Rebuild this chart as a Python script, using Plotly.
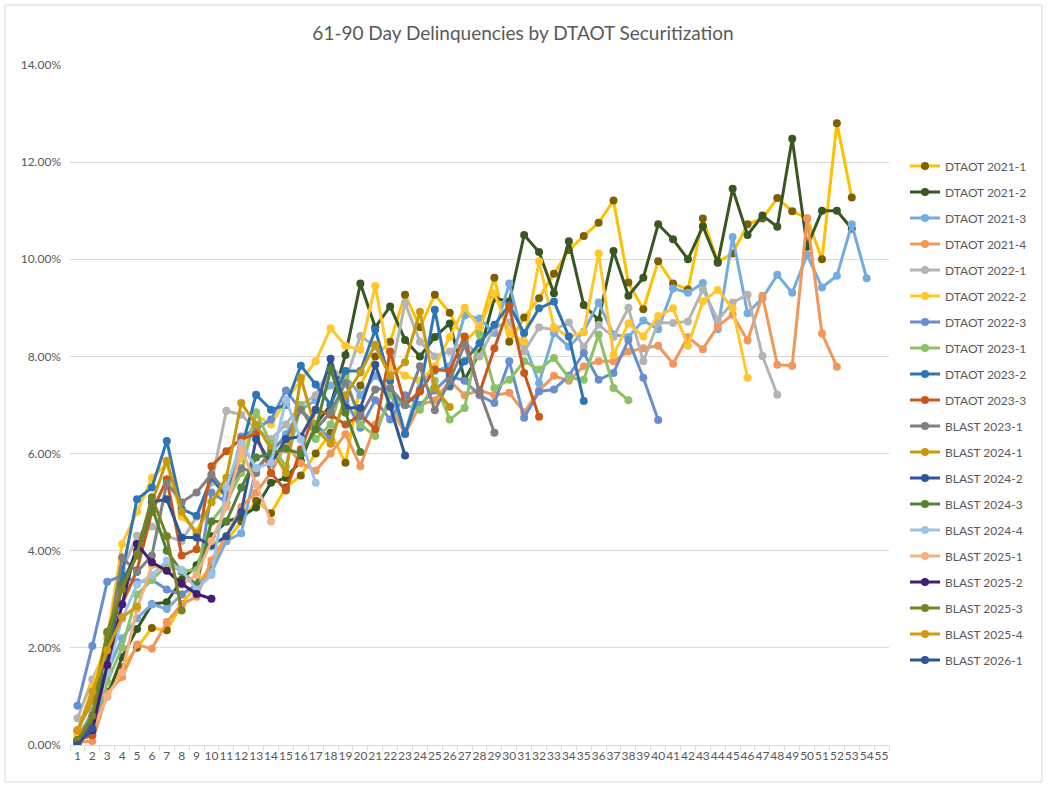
import plotly.graph_objects as go

x_labels = [str(i) for i in range(1, 56)]

series_names = [
    "DTAOT 2021-1", "DTAOT 2021-2", "DTAOT 2021-3", "DTAOT 2021-4", "DTAOT 2022-1",
    "DTAOT 2022-2", "DTAOT 2022-3", "DTAOT 2023-1", "DTAOT 2023-2", "DTAOT 2023-3",
    "BLAST 2023-1", "BLAST 2024-1", "BLAST 2024-2", "BLAST 2024-3", "BLAST 2024-4",
    "BLAST 2025-1", "BLAST 2025-2", "BLAST 2025-3", "BLAST 2025-4", "BLAST 2026-1",
]

dtaot_2021_1 = [0.3, 0.5, 1.1, 1.6, 2.0, 2.41, 2.36, 2.9, 3.3, 3.7, 4.2, 4.6, 5.03, 4.77, 5.3,
                5.55, 6.0, 6.43, 5.81, 7.4, 8.0, 8.3, 9.27, 8.6, 9.27, 8.9, 8.3, 8.6, 9.62, 8.3,
                8.8, 9.2, 9.7, 10.19, 10.48, 10.75, 11.21, 9.52, 8.97, 9.96, 9.5, 9.38, 10.84,
                9.95, 10.12, 10.72, 10.84, 11.26, 10.99, 10.84, 10.0, 12.8, 11.27]
dtaot_2021_2 = [0.05, 0.4, 1.0, 1.81, 2.39, 2.9, 2.94, 3.4, 3.7, 4.3, 4.6, 4.7, 4.89, 5.4, 5.5,
                5.85, 6.6, 7.0, 8.03, 9.5, 8.6, 9.03, 8.34, 8.0, 8.4, 8.68, 7.52, 8.07, 9.2, 9.13,
                10.5, 10.15, 9.3, 10.37, 9.06, 8.75, 10.17, 9.25, 9.62, 10.72, 10.41, 10.0, 10.68,
                9.93, 11.45, 10.5, 10.9, 10.67, 12.48, 10.26, 11.0, 11.0, 10.63]
dtaot_2021_3 = [0.1, 0.7, 1.5, 2.2, 2.61, 2.9, 2.8, 3.1, 3.3, 3.56, 4.2, 4.36, 5.7, 6.0, 6.4,
                6.9, 7.1, 7.4, 7.6, 7.2, 7.6, 7.3, 6.4, 7.5, 7.7, 7.8, 8.85, 8.78, 8.48, 9.5,
                8.27, 7.45, 8.48, 8.2, 8.51, 9.11, 8.45, 8.4, 8.74, 8.56, 9.40, 9.31, 9.51, 8.56,
                10.46, 8.89, 9.2, 9.68, 9.31, 10.09, 9.42, 9.66, 10.72, 9.61]
dtaot_2021_4 = [0.05, 0.08, 1.06, 1.4, 2.07, 1.98, 2.53, 2.9, 3.05, 3.8, 4.3, 4.9, 5.2, 5.6, 6.2,
                5.8, 5.65, 6.0, 6.4, 5.74, 6.6, 7.0, 6.4, 7.0, 7.1, 7.5, 7.2, 7.3, 7.2, 7.25,
                6.85, 7.3, 7.6, 7.5, 7.8, 7.9, 7.9, 8.1, 8.17, 8.22, 7.85, 8.40, 8.15, 8.62, 8.86,
                8.33, 9.25, 7.83, 7.81, 10.84, 8.47, 7.79]
dtaot_2022_1 = [0.55, 1.35, 2.0, 3.6, 4.31, 4.5, 4.3, 4.2, 4.7, 5.4, 6.88, 6.8, 6.5, 6.3, 6.6,
                7.0, 7.2, 7.8, 7.5, 8.42, 8.2, 7.6, 9.1, 8.3, 8.0, 8.1, 8.3, 8.0, 8.6, 8.7,
                8.1, 8.6, 8.55, 8.7, 8.2, 8.65, 8.4, 9.0, 7.9, 8.70, 8.69, 8.72, 9.38, 8.75, 9.11,
                9.27, 8.01, 7.21]
dtaot_2022_2 = [0.2, 1.2, 2.2, 4.14, 4.8, 5.5, 5.8, 4.7, 4.4, 5.0, 5.3, 5.9, 6.8, 6.6, 7.1,
                7.5, 7.9, 8.58, 8.22, 8.14, 9.45, 7.8, 7.6, 7.5, 7.8, 8.4, 9.0, 8.6, 9.3, 8.5,
                8.3, 9.96, 8.6, 8.4, 8.5, 10.12, 8.03, 8.68, 8.41, 8.83, 8.99, 8.22, 9.13, 9.37,
                8.99, 7.56]
dtaot_2022_3 = [0.81, 2.04, 3.36, 3.49, 3.35, 3.4, 3.2, 3.1, 3.3, 5.2, 5.0, 6.35, 6.5, 6.7, 7.3,
                6.9, 6.6, 6.3, 7.1, 6.53, 7.1, 6.7, 7.2, 7.0, 7.3, 7.6, 7.5, 7.2, 7.04, 7.9,
                6.74, 7.28, 7.32, 7.6, 8.07, 7.52, 7.66, 8.34, 7.56, 6.69]
dtaot_2023_1 = [0.1, 0.3, 1.3, 2.0, 3.1, 3.4, 3.7, 3.6, 3.6, 4.6, 5.0, 5.6, 6.85, 6.2, 5.73,
                7.0, 6.3, 6.6, 7.6, 6.6, 6.36, 7.2, 7.0, 6.9, 7.5, 6.7, 6.94, 8.45, 7.35, 7.52,
                7.9, 7.73, 7.97, 7.56, 7.52, 8.45, 7.35, 7.1]
dtaot_2023_2 = [0.05, 0.35, 2.0, 3.5, 5.06, 5.3, 6.26, 4.86, 4.72, 5.5, 5.1, 6.1, 7.21, 6.9, 7.0,
                7.81, 7.42, 7.0, 7.7, 7.7, 8.55, 7.5, 6.41, 7.3, 8.96, 7.38, 7.9, 8.27, 8.65, 9.06,
                8.48, 8.99, 9.13, 8.41, 7.08]
dtaot_2023_3 = [0.1, 0.2, 1.6, 2.9, 3.6, 4.8, 5.47, 3.9, 4.03, 5.74, 6.05, 6.3, 6.4, 5.6, 5.24,
                6.09, 6.9, 6.8, 6.6, 6.8, 6.5, 8.1, 7.0, 7.28, 7.73, 7.7, 8.41, 7.25, 8.17, 9.03,
                7.66, 6.76]
blast_2023_1 = [0.05, 0.3, 2.0, 3.86, 3.56, 3.9, 5.4, 5.0, 5.2, 5.57, 5.2, 5.7, 5.6, 6.1, 6.3,
                6.9, 6.5, 6.85, 7.45, 6.77, 7.32, 7.35, 7.0, 7.8, 6.89, 7.5, 8.24, 7.28, 6.43]
blast_2024_1 = [0.3, 0.9, 2.3, 3.3, 4.0, 5.0, 5.85, 4.8, 4.35, 5.0, 5.5, 7.04, 6.6, 6.1, 5.6,
                7.56, 6.5, 6.2, 7.2, 7.67, 8.24, 7.59, 7.88, 8.92, 7.35, 6.96]
blast_2024_2 = [0.05, 0.5, 1.8, 3.3, 4.0, 5.0, 5.06, 4.27, 4.27, 4.1, 4.3, 4.8, 6.3, 5.8, 6.3,
                6.35, 6.9, 7.95, 6.95, 6.94, 7.83, 6.97, 5.96]
blast_2024_3 = [0.1, 0.5, 2.0, 3.3, 3.9, 4.9, 4.0, 3.56, 3.3, 4.6, 4.6, 5.3, 5.92, 6.0, 6.1,
                6.0, 6.5, 7.73, 6.84, 6.03]
blast_2024_4 = [0.05, 0.3, 1.5, 2.6, 3.3, 3.5, 3.8, 3.6, 3.2, 3.5, 5.3, 6.22, 5.7, 5.81, 7.11,
                6.29, 5.4]
blast_2025_1 = [0.05, 0.3, 1.0, 1.5, 2.8, 3.7, 3.6, 3.3, 3.5, 4.2, 4.9, 6.09, 5.37, 4.6]
blast_2025_2 = [0.05, 0.3, 1.65, 2.9, 4.14, 3.76, 3.59, 3.32, 3.11, 3.01]
blast_2025_3 = [0.1, 0.6, 2.33, 3.2, 3.93, 5.1, 4.3, 2.77]
blast_2025_4 = [0.3, 1.1, 1.95, 2.63, 2.85]
blast_2026_1 = [0.0, 0.34]

series_values = [
    dtaot_2021_1, dtaot_2021_2, dtaot_2021_3, dtaot_2021_4, dtaot_2022_1,
    dtaot_2022_2, dtaot_2022_3, dtaot_2023_1, dtaot_2023_2, dtaot_2023_3,
    blast_2023_1, blast_2024_1, blast_2024_2, blast_2024_3, blast_2024_4,
    blast_2025_1, blast_2025_2, blast_2025_3, blast_2025_4, blast_2026_1,
]

line_colors = [
    "#FFC000", "#385723", "#75ACDF", "#F1975A", "#B4B4B4",
    "#FFC72C", "#698ED0", "#8CC168", "#2E75B6", "#C9581A",
    "#808080", "#C69A0C", "#2F5597", "#548235", "#9DC3E6",
    "#F4B183", "#3F1E74", "#7A8224", "#D29B0E", "#2F5597",
]
marker_colors = list(line_colors)
marker_colors[0] = "#7F6000"

y_ticks = [0, 2, 4, 6, 8, 10, 12, 14]
y_tick_text = ["0.00%", "2.00%", "4.00%", "6.00%", "8.00%", "10.00%", "12.00%", "14.00%"]

fig = go.Figure()
for name, vals, lc, mc in zip(series_names, series_values, line_colors, marker_colors):
    fig.add_trace(go.Scatter(
        x=x_labels[:len(vals)], y=vals, name=name, mode="lines+markers",
        line=dict(color=lc, width=3),
        marker=dict(color=mc, size=8),
        legendgroup=name,
    ))

W, H = 1048, 787
L, R, T, B = 70, 159, 65, 42
pw, ph = W - L - R, H - T - B

def px_x(p):
    return (p - L) / pw

def px_y(p):
    return (H - B - p) / ph

fig.update_layout(
    width=W, height=H,
    margin=dict(l=L, r=R, t=T, b=B),
    paper_bgcolor="white", plot_bgcolor="white",
    font=dict(family="Lato, Noto Sans, sans-serif", color="#595959", size=12),
    title=dict(text="61-90 Day Delinquencies by DTAOT Securitization",
               x=523 / W, xanchor="center", y=1 - 33 / H, yanchor="middle",
               font=dict(size=19, color="#595959")),
    showlegend=True,
    legend=dict(x=px_x(905), xanchor="left", y=px_y(413), yanchor="middle",
                traceorder="grouped", tracegroupgap=7, itemwidth=30,
                font=dict(size=12, color="#595959"), bgcolor="rgba(0,0,0,0)"),
    xaxis=dict(type="category", categoryorder="array", categoryarray=x_labels,
               range=[-0.5, 54.5], dtick=1, tickangle=0, tickson="boundaries",
               ticks="outside", ticklen=5, tickcolor="#D9D9D9",
               showline=True, linecolor="#D9D9D9", linewidth=1,
               showgrid=False, zeroline=False, fixedrange=True,
               tickfont=dict(size=12, color="#595959")),
    yaxis=dict(range=[0, 14], tickvals=y_ticks, ticktext=y_tick_text,
               showgrid=True, gridcolor="#D9D9D9", gridwidth=1,
               zeroline=False, showline=False, ticks="", ticklabelstandoff=8,
               tickfont=dict(size=12, color="#595959")),
    shapes=[dict(type="rect", xref="paper", yref="paper",
                 x0=px_x(5), x1=px_x(1042), y0=px_y(782), y1=px_y(5),
                 line=dict(color="#D9D9D9", width=1), fillcolor="rgba(0,0,0,0)",
                 layer="below")],
)

fig.write_html("out.html", config={"displayModeBar": False},
               post_script="document.body.style.margin='0';document.body.style.overflow='hidden';")
